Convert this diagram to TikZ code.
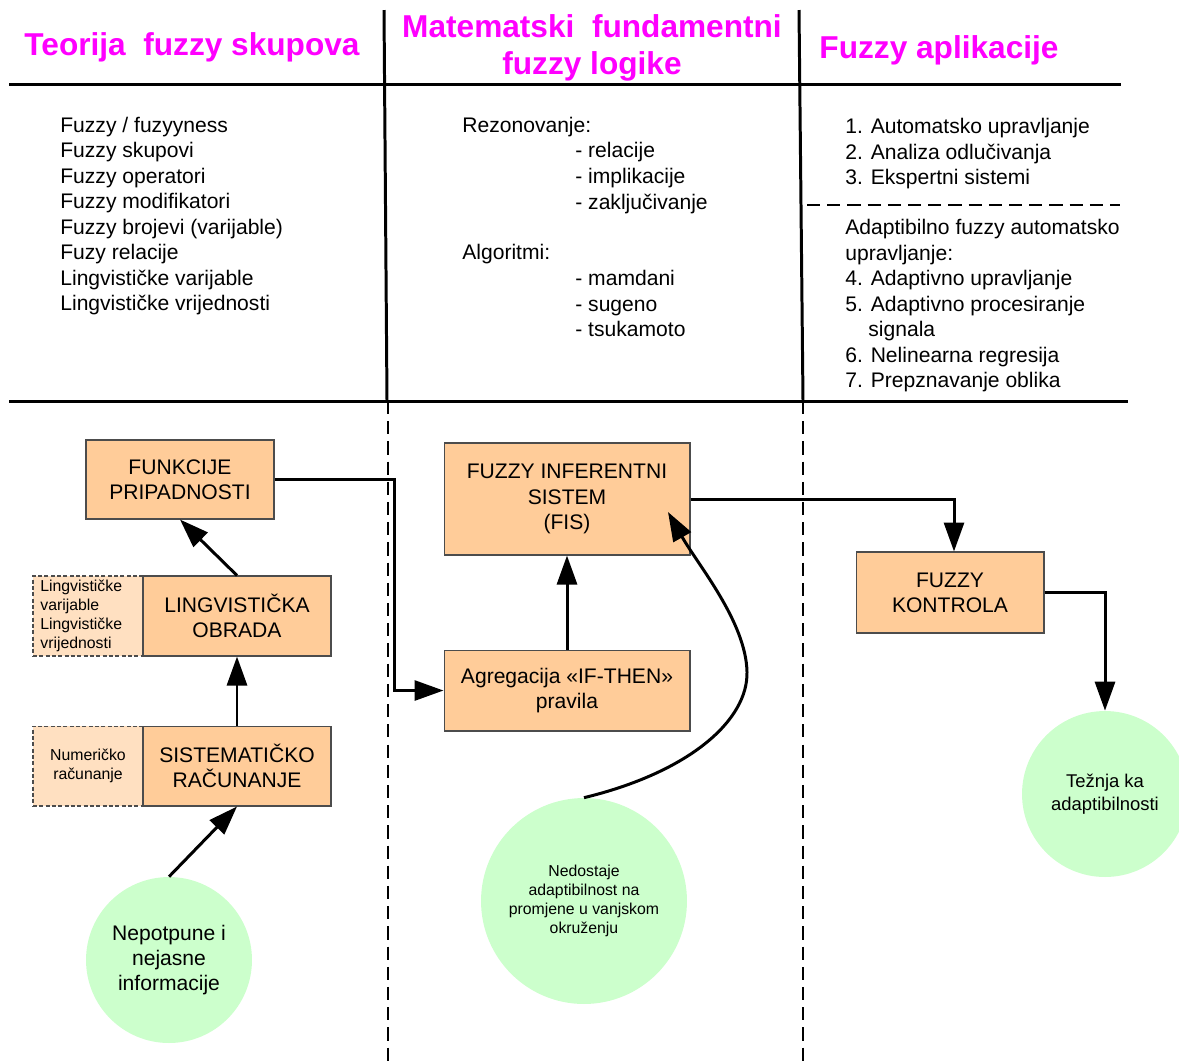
\documentclass[tikz,border=0pt]{standalone}
\usepackage{fontspec}
\setmainfont{Liberation Sans}
\usetikzlibrary{arrows.meta}
\definecolor{peach}{HTML}{FFCC99}
\definecolor{lightpeach}{HTML}{FFE0C1}
\definecolor{mint}{HTML}{CCFFCC}
\definecolor{magen}{HTML}{FF00FF}
\tikzset{
 box/.style={draw=black!70, line width=0.6pt, fill=peach, inner sep=0pt, align=center, font=\fontsize{12}{14.4}\selectfont},
 sidebox/.style={draw=black!70, dash pattern=on 2.3pt off 1.3pt, line width=0.6pt, fill=lightpeach, inner sep=0pt},
 bubble/.style={circle, fill=mint, inner sep=0pt, align=center},
 arr/.style={line width=1.7pt, -{Triangle[length=0.58cm, width=0.4cm]}},
 rule/.style={line width=1.7pt},
 dashrule/.style={line width=1.1pt, dash pattern=on 7.5pt off 4pt},
 title/.style={text=magen, font=\fontsize{18}{21}\selectfont\bfseries, anchor=base, inner sep=0pt},
 body/.style={anchor=base west, inner sep=0pt, font=\fontsize{12}{14.4}\selectfont},
 smalltxt/.style={font=\fontsize{9}{10.8}\selectfont},
}
\begin{document}
\begin{tikzpicture}[x=0.02cm,y=-0.02cm]
\useasboundingbox (0,0) rectangle (1179,1063);

% table rules
\draw[rule] (9,84) -- (1121,84);
\draw[rule] (9,401) -- (1128,401);
\draw[rule] (384,10) -- (387,401);
\draw[rule] (799,10) -- (803,401);
\draw[dashrule] (388,401) -- (388,1063);
\draw[dashrule] (803,401) -- (803,1063);
\draw[dashrule] (807,205) -- (1120,205);

% titles
\node[title] (t1) at (192,55) {Teorija~~fuzzy skupova};
\node[title] (t2a) at (592,37) {Matematski~~fundamentni};
\node[title] (t2b) at (592,74) {fuzzy logike};
\node[title] (t3) at (939,58) {Fuzzy aplikacije};

% left column
\foreach \t [count=\i] in {Fuzzy / fuzyyness, Fuzzy skupovi, Fuzzy operatori, Fuzzy modifikatori, Fuzzy brojevi (varijable), Fuzy relacije, Lingvističke varijable, Lingvističke vrijednosti}
  \node[body] (L\i) at (60,{132+25.5*(\i-1)}) {\t};

% middle column
\node[body] (m1) at (462,132) {Rezonovanje:};
\node[body] (m2) at (575,157) {- relacije};
\node[body] (m3) at (575,183) {- implikacije};
\node[body] (m4) at (575,209) {- zaključivanje};
\node[body] (m5) at (462,259) {Algoritmi:};
\node[body] (m6) at (575,285) {- mamdani};
\node[body] (m7) at (575,311) {- sugeno};
\node[body] (m8) at (575,336) {- tsukamoto};

% right column
\node[body] (r1) at (845,133) {1. Automatsko upravljanje};
\node[body] (r2) at (845,159) {2. Analiza odlučivanja};
\node[body] (r3) at (845,184) {3. Ekspertni sistemi};
\node[body] (r4) at (845,234) {Adaptibilno fuzzy automatsko};
\node[body] (r5) at (845,260) {upravljanje:};
\node[body] (r6) at (845,285) {4. Adaptivno upravljanje};
\node[body] (r7) at (845,311) {5. Adaptivno procesiranje};
\node[body] (r8) at (868,336) {signala};
\node[body] (r9) at (845,362) {6. Nelinearna regresija};
\node[body] (r10) at (845,387) {7. Prepznavanje oblika};

% boxes
\node[box, minimum width=3.76cm, minimum height=1.58cm] (funk) at (180,479.5) {FUNKCIJE\\PRIPADNOSTI};
\node[sidebox, minimum width=2.2cm, minimum height=1.6cm] (lingside) at (88,616) {};
\node[sidebox, minimum width=2.2cm, minimum height=1.6cm, smalltxt, align=center] (sistside) at (88,766) {Numeričko\\računanje};
\node[box, minimum width=3.76cm, minimum height=1.6cm] (ling) at (237,616) {LINGVISTIČKA\\OBRADA};
\node[box, minimum width=3.76cm, minimum height=1.6cm] (sist) at (237,766) {SISTEMATIČKO\\RAČUNANJE};
\node[smalltxt, anchor=west, align=left, inner sep=0pt] (lingtxt) at (40,616) {Lingvističke\\varijable\\Lingvističke\\vrijednosti};
\node[box, minimum width=4.92cm, minimum height=2.24cm, font=\fontsize{12}{14.5}\selectfont] (fis) at (567,499) {\raisebox{-0.04cm}{\begin{tabular}{@{}c@{}}FUZZY INFERENTNI\\SISTEM\\(FIS)\end{tabular}}};
\node[box, minimum width=4.92cm, minimum height=1.62cm] (agr) at (567,690.5) {Agregacija «IF-THEN»\\pravila};
\node[box, minimum width=3.76cm, minimum height=1.62cm] (kon) at (950,592.5) {FUZZY\\KONTROLA};

% bubbles
\node[bubble, minimum size=3.32cm, font=\fontsize{12}{14.2}\selectfont] (nep) at (169,960) {Nepotpune i\\nejasne\\informacije};
\node[bubble, minimum size=4.12cm, font=\fontsize{9}{10.8}\selectfont] (ned) at (584,901) {Nedostaje\\adaptibilnost na\\promjene u vanjskom\\okruženju};
\node[bubble, minimum size=3.32cm, font=\fontsize{10.5}{13}\selectfont] (tez) at (1105,794) {Težnja ka\\adaptibilnosti};

% connectors
\coordinate (fistip) at (668,512);
\draw[arr] (ling.north) -- (funk.south);
\draw[arr] (sist.north) -- (ling.south);
\draw[arr] (nep.north) -- (sist.south);
\draw[arr] (funk.east) -- ++(120,0) |- (agr.west);
\draw[arr] (agr.north) -- (fis.south);
\draw[arr] (fis.east) -| ([xshift=0.08cm]kon.north);
\draw[arr] (kon.east) -| (tez.north);
\draw[arr] (ned.north) .. controls (690,772) and (748,720) .. (747,672)
                       .. controls (746,622) and (698,565) .. (fistip);
\end{tikzpicture}
\end{document}
